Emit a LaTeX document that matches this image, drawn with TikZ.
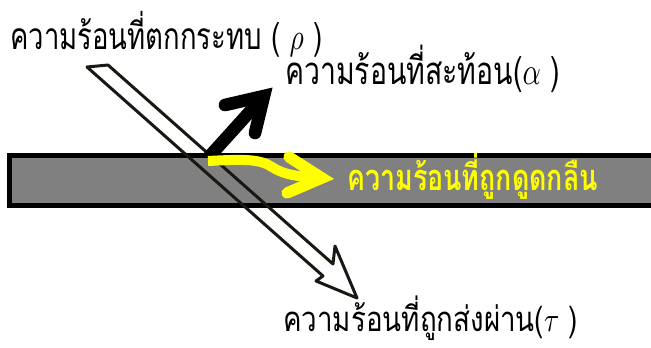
\documentclass[tikz,border=0pt]{standalone}
\usepackage{fontspec}
\newfontfamily\thai[Script=Thai]{Loma}
\definecolor{slabgray}{HTML}{808080}
\definecolor{arrowdark}{HTML}{1A1812}
\definecolor{yel}{HTML}{FFFF00}
\newcommand{\tallbox}[3]{\scalebox{1}[#2]{\resizebox{#1}{!}{#3}}}
\tikzset{
  lbl/.style={anchor=base west, inner sep=0pt, font=\thai},
  hollowarrow/.style={draw=arrowdark, line width=2.25pt, line join=round},
  reflshaft/.style={draw=black, line width=9.5pt},
  reflhead/.style={draw=black, line width=9.5pt, line cap=round, line join=miter},
  absshaft/.style={draw=yel, line width=7.5pt},
  abshead/.style={draw=yel, line width=8.5pt, line cap=round, line join=miter},
}
\begin{document}
\begin{tikzpicture}[x=0.75pt,y=-0.75pt]
\useasboundingbox (0,0) rectangle (651,347);
\clip (0,0) rectangle (651,347);
% slab
\filldraw[fill=slabgray, draw=black, line width=3.75pt] (9.5,155.5) rectangle (670,205.5);
% hollow (transmitted) arrow
\coordinate (t1) at (108,65);
\coordinate (t2) at (333,264);
\coordinate (t3) at (335,246);
\coordinate (tip) at (357,298);
\coordinate (t5) at (316,281);
\coordinate (t6) at (323,276);
\coordinate (t7) at (87,67);
\draw[hollowarrow] (t1) -- (t2) -- (t3) -- (tip) -- (t5) -- (t6) -- (t7) -- cycle;
% reflected arrow
\coordinate (r0) at (208,158);
\coordinate (rv) at (264,96);
\coordinate (rb1) at (225,105);
\coordinate (rb2) at (255,133);
\draw[reflshaft] (r0) -- (rv);
\draw[reflhead] (rb1) -- (rv) -- (rb2);
% absorbed arrow
\coordinate (a0) at (208,161);
\coordinate (a1) at (272,167);
\coordinate (a2) at (322,178);
\coordinate (ab1) at (289,157);
\coordinate (ab2) at (287,193);
\draw[absshaft] (a0) .. controls (245,159) and (260,159) .. (a1) .. controls (284,175) and (300,177) .. (a2);
\draw[abshead] (ab1) -- (a2) -- (ab2);
% labels
\node[lbl] (inc) at (10,49) {\tallbox{234pt}{1.35}{ความร้อนที่ตกกระทบ ( $\rho$ )}};
\node[lbl] (refl) at (285,84) {\tallbox{206pt}{1.35}{ความร้อนที่สะท้อน($\alpha$ )}};
\node[lbl, text=yel] (abs) at (347,190) {\tallbox{188pt}{1.35}{\bfseries ความร้อนที่ถูกดูดกลืน}};
\node[lbl] (trans) at (283,331) {\tallbox{221pt}{1.25}{ความร้อนที่ถูกส่งผ่าน($\tau$ )}};
\end{tikzpicture}
\end{document}
